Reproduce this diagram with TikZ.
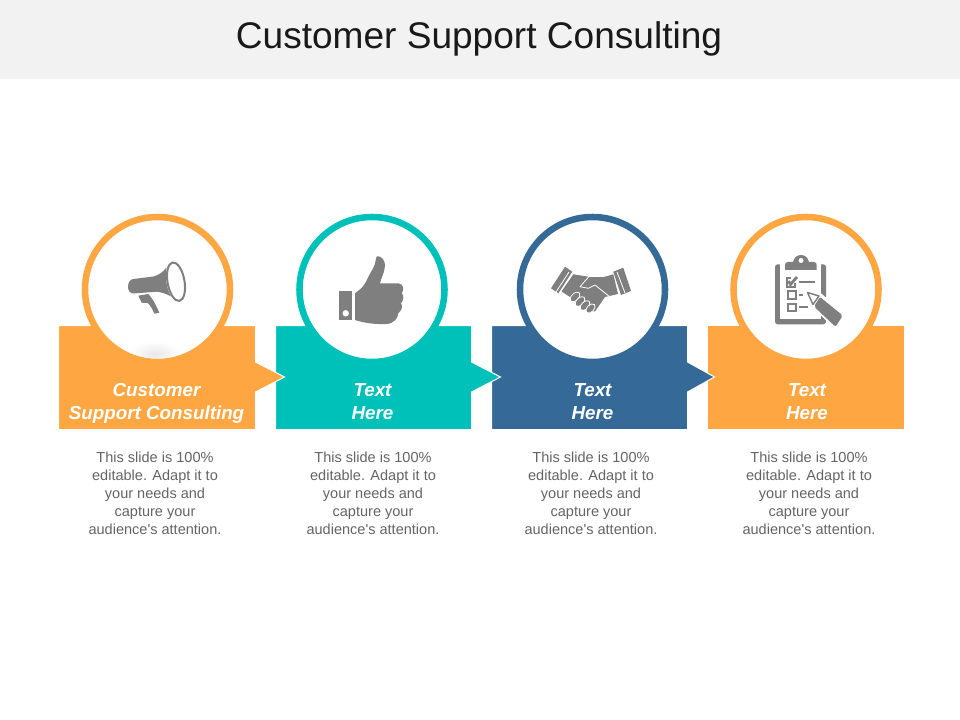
\documentclass[tikz,border=0pt]{standalone}
\usepackage{fontspec}
\setmainfont{Liberation Sans}
\definecolor{supOrange}{RGB}{253,166,66}
\definecolor{supTeal}{RGB}{0,192,186}
\definecolor{supBlue}{RGB}{52,105,152}
\definecolor{iconGrey}{RGB}{127,127,127}
\definecolor{bodyGrey}{RGB}{100,100,100}
\definecolor{bandGrey}{RGB}{242,242,242}

\begin{document}
\begin{tikzpicture}[x=0.75pt,y=-0.75pt,
                    banner/.style={draw=white,line width=0.75pt},
                    ring/.style={fill=white,line width=4.9pt},
                    icon/.style={fill=iconGrey},
                    gap/.style={draw=white,line width=0.6pt},
                    tick/.style={draw=iconGrey,line width=1.6pt},
                    caption/.style={text=white,align=center,font=\fontsize{14.1}{17.25}\selectfont\bfseries\itshape},
                    blurb/.style={text=bodyGrey,align=center,font=\fontsize{10.9}{13.5}\selectfont},
                    ]

                    \useasboundingbox (0,0) rectangle (960,720);
                    \fill[bandGrey] (0,0) rectangle (960,79);
                    \node[font=\fontsize{27.8}{33}\selectfont,text=black!90] (title) at (479,39) {Customer Support Consulting};

                    % banners, last one first so each tip lies on the next
                    \path[banner,fill=supOrange] (707.5,325.5) rectangle (904.5,429.5);
                    \path[banner,fill=supBlue] (491.5,325.5) -- (687.5,325.5) -- (687.5,362) -- (714.5,377) -- (687.5,392) -- (687.5,429.5) -- (491.5,429.5) -- cycle;
                    \path[banner,fill=supTeal] (275.5,325.5) -- (471.5,325.5) -- (471.5,362) -- (500.5,377) -- (471.5,392) -- (471.5,429.5) -- (275.5,429.5) -- cycle;
                    \path[banner,fill=supOrange] (58.5,325.5) -- (255.5,325.5) -- (255.5,362) -- (284.5,377) -- (255.5,392) -- (255.5,429.5) -- (58.5,429.5) -- cycle;

                    \draw[ring,draw=supOrange] (157.5,289.5) circle (72.5);
                    \draw[ring,draw=supTeal] (372,289.5) circle (72.5);
                    \draw[ring,draw=supBlue] (592.5,289.5) circle (72.5);
                    \draw[ring,draw=supOrange] (806,289.5) circle (72.5);

                    \begin{scope}
                        \clip (157.5,289.5) circle (69);
                        \shade[inner color=black!9,outer color=white] (155,354) ellipse [x radius=26,y radius=13];
                    \end{scope}

                    % megaphone
                    \draw[draw=iconGrey,line width=1.5pt,rotate around={10:(176,281.7)}] (176,281.7) ellipse [x radius=8.5,y radius=19.5];
                    \fill[icon] (133.3,279) -- (153.3,276.5) .. controls (159,275) and (163,272) .. (166.5,267.5) .. controls (165,276) and (166,288) .. (171,296.5) .. controls (165,293) and (160,292) .. (156.7,291.7) -- (133.3,293.5) .. controls (126,293.5) and (126.5,279.5) .. (133.3,279) -- cycle;
                    \fill[icon] (138.3,295.7) -- (148.3,294) .. controls (153,299) and (156,305) .. (159.3,312.7) -- (154.3,313.7) .. controls (152,308) and (150,305) .. (147.5,303) -- (141.7,302.7) -- cycle;

                    % thumb
                    \fill[icon] (339,291) rectangle (352.3,320);
                    \fill[white] (345.7,313.3) circle (3.2);
                    \fill[icon] (355,293.3) -- (361,288.5) .. controls (365,285) and (367,279) .. (369.3,275) .. controls (372,270) and (375,266) .. (375.5,261) -- (376.7,256.3) .. controls (381,255.5) and (385,260) .. (385,265) .. controls (385,272) and (381,278) .. (380,283.3) -- (398.3,283.3) .. controls (403,284) and (405,289) .. (401.7,293.3) .. controls (404,295) and (404,300) .. (401,303.3) .. controls (403,306) and (402,310) .. (398.3,313.3) .. controls (398,318) and (394,323.5) .. (386.7,324) .. controls (375,324.5) and (364,323) .. (355,320) -- cycle;

                    % handshake
                    \fill[icon] (551,288.3) -- (565,266.7) -- (572.3,271.7) -- (558.3,293.3) -- cycle;
                    \fill[icon] (613.3,271.7) -- (623.3,267.7) -- (631,291) -- (621,295) -- cycle;
                    \fill[icon] (561.5,291.5) -- (573.3,274.3) -- (588.3,276.7) -- (605,276.7) -- (613.3,274.3) -- (618,294) -- (605,297) -- (595,311.5) -- (587,311) -- (570,297) -- cycle;
                    \draw[gap] (569,272) -- (556,292);
                    \draw[gap] (617,272) -- (625,293);
                    \draw[gap,line join=round] (610,297) -- (595,285) -- (588.3,288.3) -- (580,286.7) -- (589,276.5) -- (604,276.5);
                    \draw[gap,fill=iconGrey,rotate around={45:(575,297)}] (575,297) ellipse [x radius=6,y radius=3.5];
                    \draw[gap,fill=iconGrey,rotate around={45:(580,301.5)}] (580,301.5) ellipse [x radius=6,y radius=3.5];
                    \draw[gap,fill=iconGrey,rotate around={45:(585,305.5)}] (585,305.5) ellipse [x radius=6,y radius=3.5];
                    \draw[gap,fill=iconGrey,rotate around={45:(590.5,308.5)}] (590.5,308.5) ellipse [x radius=5.5,y radius=3.5];

                    % clipboard
                    \fill[icon,rounded corners=2pt] (775,264.3) rectangle (826,324.3);
                    \fill[white] (780,262) rectangle (821,319);
                    \fill[icon] (785,270) -- (785,265) .. controls (785,263) and (786,262) .. (788,262) -- (793,262) .. controls (794,257) and (798,255) .. (801,255) .. controls (804,255) and (808,257) .. (809,262) -- (813.7,262) .. controls (815.7,262) and (816.7,263) .. (816.7,265) -- (816.7,270) -- cycle;
                    \fill[white] (801,260.5) circle (2.5);
                    \draw[tick] (795,283) -- (795,286.7) -- (786.7,286.7) -- (786.7,278.3) -- (791,278.3);
                    \draw[tick,line width=2.1pt] (788.5,281) -- (790.5,284.5) -- (797,277);
                    \draw[tick] (799.3,282.3) -- (815,282.3);
                    \draw[tick] (787.7,291) rectangle (795.7,299);
                    \draw[tick] (799.3,295) -- (803.3,295);
                    \draw[tick] (787.7,304) rectangle (795.7,311);
                    \draw[tick] (799.3,307.3) -- (808.3,307.3);
                    \path[draw=white,fill=white,line width=3pt,line join=round] (806.7,291.7) -- (820,295) -- (842.5,315) -- (835,326.5) -- (813.3,305) -- cycle;
                    \draw[tick,fill=white,line width=1.1pt,line join=round] (807.5,292.5) -- (819,296) -- (813,304.5) -- cycle;
                    \fill[icon,rounded corners=1.5pt] (820,297) -- (842.8,315.5) -- (835.5,326.8) -- (814,306.5) -- cycle;

                    \node[caption] (label1) at (156.5,403.5) {Customer\\Support Consulting};
                    \node[caption] (label2) at (372.5,401.5) {Text\\Here};
                    \node[caption] (label3) at (592.5,401.5) {Text\\Here};
                    \node[caption] (label4) at (807,401.5) {Text\\Here};

                    \node[blurb] (blurb1) at (155,493) {This slide is 100\%\\editable. Adapt it to\\your needs and\\capture your\\audience\textquotesingle s attention.};
                    \node[blurb] (blurb2) at (373,493) {This slide is 100\%\\editable. Adapt it to\\your needs and\\capture your\\audience\textquotesingle s attention.};
                    \node[blurb] (blurb3) at (591,493) {This slide is 100\%\\editable. Adapt it to\\your needs and\\capture your\\audience\textquotesingle s attention.};
                    \node[blurb] (blurb4) at (809,493) {This slide is 100\%\\editable. Adapt it to\\your needs and\\capture your\\audience\textquotesingle s attention.};
                \end{tikzpicture}
\end{document}
